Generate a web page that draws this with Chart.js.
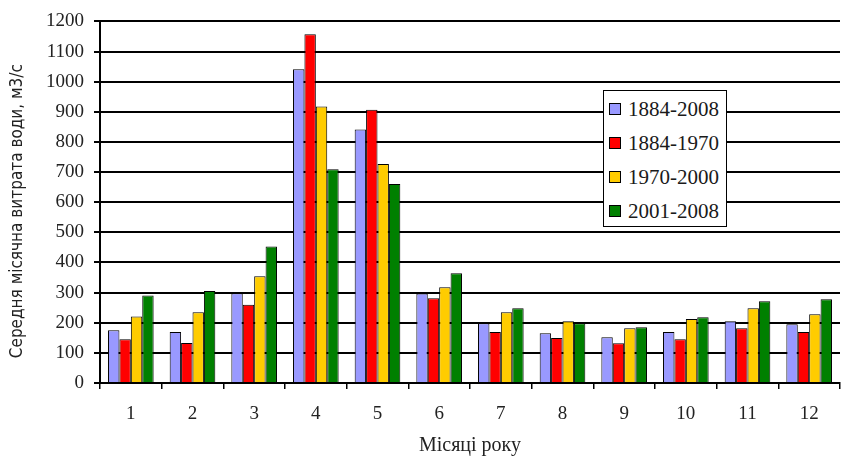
<!DOCTYPE html>
<html>
<head>
<meta charset="utf-8">
<script src="https://cdn.jsdelivr.net/npm/chart.js@4.4.1/dist/chart.umd.min.js"></script>
<style>
  html, body { margin: 0; padding: 0; background: #fff; }
  #wrap { position: relative; width: 846px; height: 459px; }
  #legend {
    position: absolute; left: 603px; top: 90px; width: 122px; height: 135px;
    border: 1.5px solid #000; background: #fff;
    font-family: "Liberation Serif", "Times New Roman", serif; font-size: 21px; color: #1a1a1a;
  }
  #legend .item { position: absolute; left: 5px; height: 24px; line-height: 24px; white-space: nowrap; }
  #legend .sw { position: absolute; left: 0; top: 6px; width: 10px; height: 10px; border: 1px solid #000; }
  #legend .tx { position: absolute; left: 19px; top: 0; }
</style>
</head>
<body>
<div id="wrap">
  <canvas id="c" width="846" height="459"></canvas>
  <div id="legend"></div>
</div>
<script>
const months = ["1","2","3","4","5","6","7","8","9","10","11","12"];
const seriesNames = ["1884-2008","1884-1970","1970-2000","2001-2008"];
const s1884_2008 = [175, 169, 298, 1041, 841, 297, 198, 165, 152, 169, 205, 195];
const s1884_1970 = [145, 133, 260, 1157, 907, 281, 169, 149, 132, 145, 182, 169];
const s1970_2000 = [221, 235, 354, 918, 727, 318, 235, 205, 182, 212, 248, 228];
const s2001_2008 = [290, 305, 453, 709, 660, 364, 248, 198, 185, 218, 271, 278];
const colors = ["#9999FF", "#FF0000", "#FFCC00", "#008000"];
const yTitle = "Середня місячна витрата води, м3/с";
const xTitle = "Місяці року";

const allSeries = [s1884_2008, s1884_1970, s1970_2000, s2001_2008];
const serif = "'Liberation Serif', 'Times New Roman', serif";
const narrow = "'Liberation Sans Narrow', 'Arial Narrow', 'DejaVu Sans Condensed', sans-serif";

const datasets = allSeries.map((d, i) => ({
  label: seriesNames[i],
  data: d,
  backgroundColor: colors[i],
  borderColor: "#000",
  borderWidth: 1,
  categoryPercentage: 0.74,
  barPercentage: 1.0
}));

// HTML legend
const leg = document.getElementById('legend');
seriesNames.forEach((n, i) => {
  const it = document.createElement('div');
  it.className = 'item';
  it.style.top = (6 + i * 34) + 'px';
  it.innerHTML = '<span class="sw" style="background:' + colors[i] + '"></span><span class="tx">' + n + '</span>';
  leg.appendChild(it);
});

// Y-axis title drawn as rotated text, centred a bit below the plot centre as in the reference
const yTitlePlugin = {
  id: 'yTitlePlugin',
  afterDraw(chart) {
    const { ctx, chartArea } = chart;
    ctx.save();
    ctx.translate(18, (chartArea.top + chartArea.bottom) / 2 + 9);
    ctx.rotate(-Math.PI / 2);
    ctx.font = "17px " + narrow;
    ctx.fillStyle = "#222";
    ctx.textAlign = "center";
    ctx.textBaseline = "middle";
    ctx.fillText(yTitle, 0, 0);
    ctx.restore();
  }
};

new Chart(document.getElementById('c'), {
  type: 'bar',
  data: { labels: months, datasets },
  plugins: [yTitlePlugin],
  options: {
    responsive: false,
    animation: false,
    layout: { padding: { top: 20, right: 6, left: 0, bottom: 0 } },
    plugins: { legend: { display: false }, tooltip: { enabled: false } },
    scales: {
      x: {
        grid: { drawOnChartArea: false, drawTicks: true, tickLength: 6, color: "#000", lineWidth: 1.5, offset: true },
        border: { display: true, color: "#000", width: 2 },
        ticks: { color: "#222", font: { family: serif, size: 19 }, padding: 14 },
        title: { display: true, text: xTitle, color: "#222", font: { family: serif, size: 20 }, padding: { top: 0, bottom: 1 } },
        afterFit: (s) => { s.height = 76; }
      },
      y: {
        min: 0, max: 1200,
        grid: { color: "#000", lineWidth: 2, tickLength: 6 },
        border: { display: true, color: "#000", width: 2 },
        ticks: {
          stepSize: 100, color: "#222", font: { family: serif, size: 19 }, padding: 10,
          callback: (v) => String(v)
        },
        title: { display: false },
        afterFit: (s) => { s.width = 100; }
      }
    }
  }
});
</script>
</body>
</html>
